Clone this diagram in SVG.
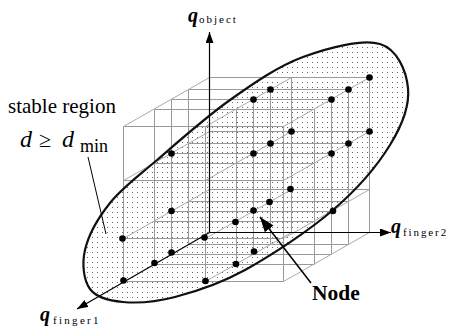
<svg xmlns="http://www.w3.org/2000/svg" width="453" height="333" viewBox="0 0 453 333">
<style>
.gv{stroke:#999;stroke-width:1;fill:none}
.gs{stroke:#aaa;stroke-width:1;fill:none}
.ax{stroke:#000;stroke-width:1.2;fill:none}
.dot{fill:#000}
.serif{font-family:"Liberation Serif","Times New Roman",serif;fill:#000}
.q{font-family:"Liberation Serif","Times New Roman",serif;font-weight:bold;font-style:italic;font-size:20px}
.sub{font-family:"Liberation Serif","Times New Roman",serif;font-size:11px}
</style>
<defs>
<pattern id="dots" x="0" y="0" width="5" height="5" patternUnits="userSpaceOnUse">
<rect x="2" y="2" width="1" height="1" fill="#666"/>
</pattern>
<marker id="ah" markerUnits="userSpaceOnUse" markerWidth="12" markerHeight="8" refX="11" refY="4" orient="auto">
<path d="M0,0 L11,4 L0,8 Z" fill="#000"/>
</marker>
<marker id="ahn" markerUnits="userSpaceOnUse" markerWidth="16" markerHeight="11" refX="15" refY="5.5" orient="auto">
<path d="M0,0 L15,5.5 L0,11 Z" fill="#000"/>
</marker>
</defs>
<g id="stable-region-fill">
<path id="ellipse-fill" fill="url(#dots)" stroke="none" d="M157,160 C137,177.2 122,188 110,203 C98,218 88.3,235.7 85,250 C81.7,264.3 83.7,280.3 90,289 C96.3,297.7 108.8,300.7 123,302 C137.2,303.3 154.7,302.3 175,297 C195.3,291.7 218.7,284.5 245,270 C271.3,255.5 308.8,230.8 333,210 C357.2,189.2 377.5,165.3 390,145 C402.5,124.7 409.7,104.8 408,88 C406.3,71.2 397.5,49.2 380,44 C362.5,38.8 328,47.7 303,57 C278,66.3 254.3,82.8 230,100 C205.7,117.2 177,142.8 157,160 Z"/>
</g>
<g id="grid">
<path class="gv" d="M291.5,77.5V232.5 M369.5,77.5V232.5
M188.5,89.5V244.5 M270.5,89.5V244.5 M348.5,89.5V244.5
M171.5,99.5V254.5 M253.5,99.5V254.5 M331.5,99.5V254.5
M154.5,109.5V264.5 M236.5,109.5V264.5 M314.5,109.5V264.5
M123.5,126.5V281.5 M205.5,126.5V281.5 M283.5,126.5V281.5"/>
<path class="gv" d="M209.5,77.5H369.5 M209.5,131.5H369.5 M209.5,189.5H369.5
M188.5,89.5H348.5 M188.5,143.5H348.5 M188.5,201.5H348.5 M188.5,244.5H348.5
M171.5,99.5H331.5 M171.5,153.5H331.5 M171.5,211.5H331.5 M171.5,254.5H331.5
M154.5,109.5H314.5 M154.5,163.5H314.5 M154.5,221.5H314.5 M154.5,264.5H314.5
M123.5,126.5H283.5 M123.5,180.5H283.5 M123.5,238.5H283.5 M123.5,281.5H283.5"/>
<path class="gs" d="M209.5,77.5L123.5,126.5 M209.5,131.5L123.5,180.5 M209.5,189.5L123.5,238.5
M291.5,77.5L205.5,126.5 M291.5,131.5L205.5,180.5 M291.5,189.5L205.5,238.5 M291.5,232.5L205.5,281.5
M369.5,77.5L283.5,126.5 M369.5,131.5L283.5,180.5 M369.5,189.5L283.5,238.5 M369.5,232.5L283.5,281.5"/>
</g>
<g id="stable-region">
<path fill="none" stroke="#111" stroke-width="2.2" d="M157,160 C137,177.2 122,188 110,203 C98,218 88.3,235.7 85,250 C81.7,264.3 83.7,280.3 90,289 C96.3,297.7 108.8,300.7 123,302 C137.2,303.3 154.7,302.3 175,297 C195.3,291.7 218.7,284.5 245,270 C271.3,255.5 308.8,230.8 333,210 C357.2,189.2 377.5,165.3 390,145 C402.5,124.7 409.7,104.8 408,88 C406.3,71.2 397.5,49.2 380,44 C362.5,38.8 328,47.7 303,57 C278,66.3 254.3,82.8 230,100 C205.7,117.2 177,142.8 157,160 Z"/>
</g>
<g id="axes">
<line class="ax" x1="209.5" y1="232.5" x2="209.5" y2="32" marker-end="url(#ah)"/>
<line class="ax" x1="209.5" y1="232.5" x2="391" y2="232.5" marker-end="url(#ah)"/>
<line class="ax" x1="209.5" y1="232.5" x2="77" y2="309" marker-end="url(#ah)"/>
</g>
<g id="connectors">
<line x1="88" y1="157" x2="106" y2="234" stroke="#000" stroke-width="1"/>
<line x1="311" y1="283" x2="260" y2="217" stroke="#000" stroke-width="1.5" marker-end="url(#ahn)"/>
</g>
<g id="nodes">
<circle class="dot" cx="369.5" cy="77.5" r="3.3"/>
<circle class="dot" cx="348.5" cy="89.5" r="3.3"/>
<circle class="dot" cx="331.5" cy="99.5" r="3.3"/>
<circle class="dot" cx="270.5" cy="89.5" r="3.3"/>
<circle class="dot" cx="253.5" cy="99.5" r="3.3"/>
<circle class="dot" cx="291.5" cy="131.5" r="3.3"/>
<circle class="dot" cx="369.5" cy="131.5" r="3.3"/>
<circle class="dot" cx="348.5" cy="143.5" r="3.3"/>
<circle class="dot" cx="331.5" cy="153.5" r="3.3"/>
<circle class="dot" cx="270.5" cy="143.5" r="3.3"/>
<circle class="dot" cx="253.5" cy="153.5" r="3.3"/>
<circle class="dot" cx="171.5" cy="153.5" r="3.3"/>
<circle class="dot" cx="171.5" cy="211" r="3.3"/>
<circle class="dot" cx="122.5" cy="238.5" r="3.3"/>
<circle class="dot" cx="204.5" cy="237.5" r="3.3"/>
<circle class="dot" cx="171.5" cy="252.5" r="3.3"/>
<circle class="dot" cx="154.5" cy="263" r="3.3"/>
<circle class="dot" cx="123.5" cy="280.5" r="3.3"/>
<circle class="dot" cx="205.5" cy="281" r="3.3"/>
<circle class="dot" cx="290.5" cy="189" r="3.3"/>
<circle class="dot" cx="269.5" cy="202" r="3.3"/>
<circle class="dot" cx="253.5" cy="210.5" r="3.3"/>
<circle class="dot" cx="235.5" cy="222" r="3.3"/>
<circle class="dot" cx="333" cy="211" r="3.3"/>
<circle class="dot" cx="254" cy="251.5" r="3.3"/>
<circle class="dot" cx="236" cy="264" r="3.3"/>
</g>
<g id="labels">
<text class="q" x="188" y="22">q</text>
<text class="sub" x="199" y="23" letter-spacing="2">object</text>
<text class="q" x="391" y="233">q</text>
<text class="sub" x="403" y="236" letter-spacing="1.9">finger2</text>
<text class="q" x="40" y="321">q</text>
<text class="sub" x="53" y="324" letter-spacing="2.3">finger1</text>
<text class="serif" x="8" y="113" font-size="21">stable region</text>
<text class="serif" x="20" y="147" font-size="24" font-style="italic">d</text>
<text class="serif" x="39" y="147" font-size="22">≥</text>
<text class="serif" x="62" y="147" font-size="24" font-style="italic">d</text>
<text class="serif" x="80" y="152" font-size="18">min</text>
<text class="serif" x="312" y="300" font-size="21.5" font-weight="bold">Node</text>
</g>
</svg>
